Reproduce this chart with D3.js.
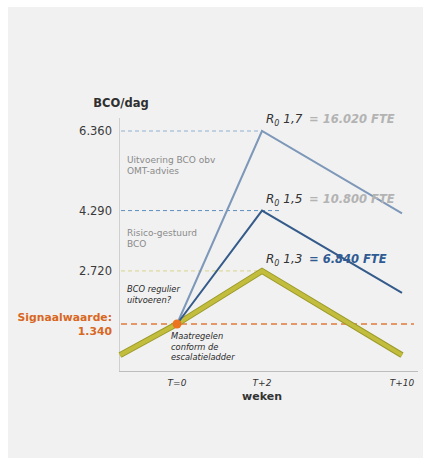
<!DOCTYPE html>
<html><head><meta charset="utf-8">
<script src="https://cdn.jsdelivr.net/npm/d3@7"></script>
<style>body{margin:0;background:#fff}svg{display:block}</style>
</head><body>
<script>
// ---- data ----
const weeks = [-1, 0, 2, 10];
const weekLabels = ["", "T=0", "T+2", "T+10"];
const yTickValues = [6360, 4290, 2720];
const yTickLabels = ["6.360", "4.290", "2.720"];
const signalValue = 1340;
const signalLabel = ["Signaalwaarde:", "1.340"];
const seriesR13 = [530, 1340, 2720, 530];          // weeks -1,0,2,10
const seriesR15 = [null, 1340, 4290, 2150];
const seriesR17 = [null, 1340, 6360, 4220];
const r0Labels = ["1,7", "1,5", "1,3"];
const fteLabels = ["= 16.020 FTE", "= 10.800 FTE", "= 6.840 FTE"];

const W = 423, H = 458;
const svg = d3.select("body").append("svg").attr("width", W).attr("height", H);
svg.append("rect").attr("x", 8).attr("y", 7).attr("width", W - 8).attr("height", H - 7).attr("fill", "#f1f1f1");

const x = d3.scaleLinear().domain(weeks).range([120, 177, 262, 402]);
const y = d3.scaleLinear().domain([0, 6360]).range([375.5, 131]);
const font = "'DejaVu Sans', Verdana, sans-serif";

// axes lines
svg.append("line").attr("x1", 119.5).attr("x2", 119.5).attr("y1", 118).attr("y2", 371).attr("stroke", "#cfcfcf").attr("stroke-width", 1);
svg.append("line").attr("x1", 119).attr("x2", 418).attr("y1", 371.5).attr("y2", 371.5).attr("stroke", "#bdbdbd").attr("stroke-width", 1);

// dashed reference lines
const dashCols = ["#8fb0d0", "#5d8fc0", "#d9d48a"];
const dashEnds = [2, 3.1, 2];
yTickValues.forEach((v, i) => {
  svg.append("line").attr("x1", 121).attr("x2", x(dashEnds[i]))
    .attr("y1", y(v)).attr("y2", y(v))
    .attr("stroke", dashCols[i]).attr("stroke-width", 1).attr("stroke-dasharray", "4,3");
});
svg.append("line").attr("x1", 121).attr("x2", 414)
  .attr("y1", y(signalValue)).attr("y2", y(signalValue))
  .attr("stroke", "#e07b3a").attr("stroke-width", 1.5).attr("stroke-dasharray", "6,4");

// y tick labels
yTickValues.forEach((v, i) => {
  svg.append("text").attr("x", 112).attr("y", y(v) + 4).attr("text-anchor", "end")
    .attr("font-family", font).attr("font-size", 11.5).attr("fill", "#3a3a3a").text(yTickLabels[i]);
});
svg.append("text").attr("x", 112).attr("y", y(signalValue) - 3).attr("text-anchor", "end")
  .attr("font-family", font).attr("font-size", 10.8).attr("font-weight", "bold").attr("fill", "#d9671f").text(signalLabel[0]);
svg.append("text").attr("x", 112).attr("y", y(signalValue) + 11).attr("text-anchor", "end")
  .attr("font-family", font).attr("font-size", 10.8).attr("font-weight", "bold").attr("fill", "#d9671f").text(signalLabel[1]);

svg.append("text").attr("x", 121).attr("y", 107).attr("text-anchor", "middle")
  .attr("font-family", font).attr("font-size", 11.5).attr("font-weight", "bold").attr("fill", "#2f2f2f").text("BCO/dag");

// series lines
const line = d3.line().defined(d => d[1] != null).x(d => x(d[0])).y(d => y(d[1]));
const pts = s => weeks.map((w, i) => [w, s[i]]);
svg.append("path").attr("d", line(pts(seriesR13))).attr("fill", "none")
  .attr("stroke", "#9c9a2a").attr("stroke-width", 6).attr("stroke-linejoin", "miter");
svg.append("path").attr("d", line(pts(seriesR13))).attr("fill", "none")
  .attr("stroke", "#c2bd3c").attr("stroke-width", 4).attr("stroke-linejoin", "miter");
svg.append("path").attr("d", line(pts(seriesR17))).attr("fill", "none")
  .attr("stroke", "#7d98b8").attr("stroke-width", 2);
svg.append("path").attr("d", line(pts(seriesR15))).attr("fill", "none")
  .attr("stroke", "#355b8a").attr("stroke-width", 2);

// signal dot
svg.append("circle").attr("cx", x(0)).attr("cy", y(signalValue)).attr("r", 4.5).attr("fill", "#ea7420");

// R0 labels
const peaks = [6360, 4290, 2720];
const fteCols = ["#b3b3b3", "#b3b3b3", "#2f5a92"];
peaks.forEach((v, i) => {
  const ty = y(v) - 8;
  const t = svg.append("text").attr("x", 266).attr("y", ty)
    .attr("font-family", font).attr("font-size", 12).attr("font-style", "italic").attr("fill", "#333");
  t.append("tspan").text("R");
  t.append("tspan").attr("font-size", 8).attr("dy", 3).text("0");
  t.append("tspan").attr("dy", -3).text(" " + r0Labels[i]);
  svg.append("text").attr("x", 309).attr("y", ty)
    .attr("font-family", font).attr("font-size", 11.5).attr("font-weight", "bold").attr("font-style", "italic")
    .attr("fill", fteCols[i]).text(fteLabels[i]);
});

// annotations
function note(lines, x0, y0, opts) {
  lines.forEach((l, i) => {
    svg.append("text").attr("x", x0).attr("y", y0 + i * 10.5)
      .attr("font-family", font).attr("font-size", opts.size || 8.3)
      .attr("font-style", opts.italic ? "italic" : "normal")
      .attr("fill", opts.col).text(l);
  });
}
note(["Uitvoering BCO obv", "OMT-advies"], 127, 163, {col: "#8a8a8a", size: 9});
note(["Risico-gestuurd", "BCO"], 127, 236, {col: "#8a8a8a", size: 9});
note(["BCO regulier", "uitvoeren?"], 127, 292, {col: "#2a2a2a", italic: true});
note(["Maatregelen", "conform de", "escalatieladder"], 171, 339, {col: "#2a2a2a", italic: true});

// x tick labels
weeks.forEach((w, i) => {
  if (!weekLabels[i]) return;
  svg.append("text").attr("x", x(w)).attr("y", 386).attr("text-anchor", "middle")
    .attr("font-family", font).attr("font-size", 9).attr("font-style", "italic").attr("fill", "#333").text(weekLabels[i]);
});
svg.append("text").attr("x", x(2)).attr("y", 400).attr("text-anchor", "middle")
  .attr("font-family", font).attr("font-size", 11).attr("font-weight", "bold").attr("fill", "#333").text("weken");
</script>
</body></html>
